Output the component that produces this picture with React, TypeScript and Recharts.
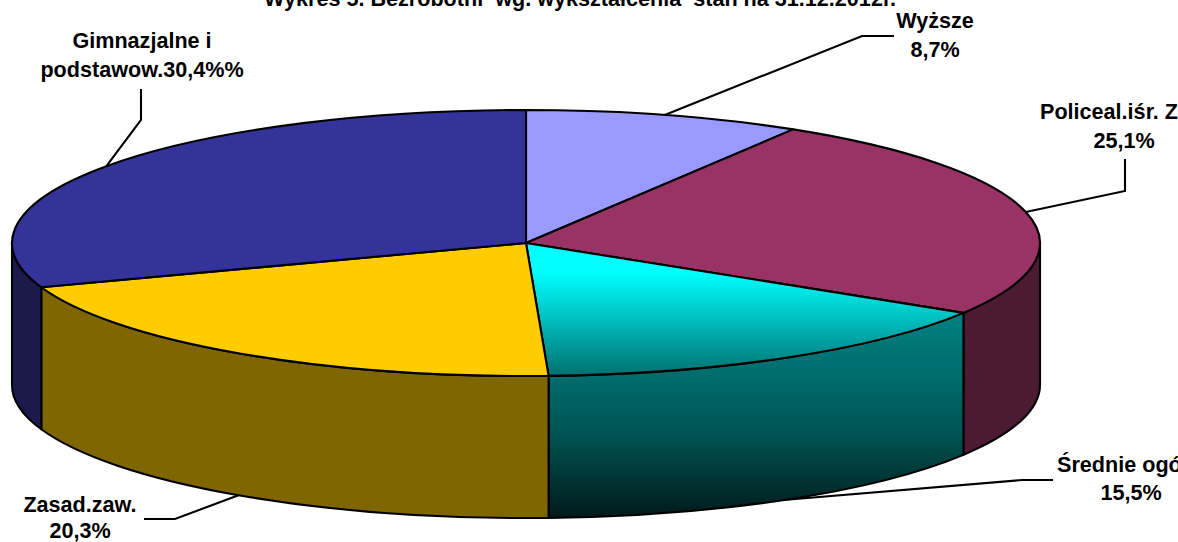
import { Pie, PieChart } from "recharts";

const categories = ["Wyższe", "Policeal.iśr. Zaw.", "Średnie ogólne", "Zasad.zaw.", "Gimnazjalne i podstawow."];
const shares = [8.7, 25.1, 15.5, 20.3, 30.4];
const topColors = ["#9999ff", "#993366", "url(#cyanTop)", "#ffcc00", "#333399"];
const sideColors = ["#4d4d80", "#4d1a33", "url(#cyanSide)", "#806600", "#1a1a4d"];

// visible text per label, the source picture cuts some of it at the frame
const labelLines = [
  ["Wyższe", "8,7%"],
  ["Policeal.iśr. Z", "25,1%"],
  ["Średnie ogó", "15,5%"],
  ["Zasad.zaw.", "20,3%"],
  ["Gimnazjalne i", "podstawow.30,4%%"],
];
const titleText = "Wykres 5. Bezrobotni  wg. wykształcenia  stan na 31.12.2012r.";

const WIDTH = 1178;
const HEIGHT = 542;
const CX = 526;
const CY = 243;
const RX = 514;
const RY = 133;
const DEPTH = 142;
const FONT = "'Liberation Sans', Arial, sans-serif";
const FONT_SIZE = 21.6;
const STROKE = 2.1;

// leader bend and end, then text x/baselines for each label
const labelLayout = [
  { elbow: [862, 36], end: [894, 36], x: [935, 935], y: [28, 57], anchor: ["middle", "middle"] },
  { elbow: [1125, 191], end: [1125, 159], x: [1040, 1124], y: [119, 148], anchor: ["start", "middle"] },
  { elbow: [1022, 480], end: [1053, 480], x: [1057, 1131], y: [472, 500], anchor: ["start", "middle"] },
  { elbow: [175, 519], end: [144, 519], x: [80, 80], y: [512, 538], anchor: ["middle", "middle"] },
  { elbow: [141, 120], end: [141, 89], x: [142, 142], y: [48, 77], anchor: ["middle", "middle"] },
];

const rows = categories.map((name, i) => ({
  name,
  value: shares[i],
  fill: topColors[i],
  side: sideColors[i],
}));

// clockwise degrees from 12 o'clock to a point on the flattened rim
function rim(cx: number, cy: number, r: number, clockDeg: number) {
  const a = (clockDeg * Math.PI) / 180;
  return [cx + r * Math.sin(a), cy - r * (RY / RX) * Math.cos(a)];
}

function TopSlice(props: any) {
  const { cx, cy, outerRadius: r, startAngle, endAngle, fill } = props;
  const t0 = 90 - startAngle;
  const t1 = 90 - endAngle;
  const p0 = rim(cx, cy, r, t0);
  const p1 = rim(cx, cy, r, t1);
  const large = t1 - t0 > 180 ? 1 : 0;
  const ry = r * (RY / RX);
  return (
    <path
      d={`M${cx},${cy} L${p0[0]},${p0[1]} A${r},${ry} 0 ${large} 1 ${p1[0]},${p1[1]} Z`}
      fill={fill}
      stroke="#000"
      strokeWidth={STROKE}
      strokeLinejoin="round"
    />
  );
}

function SideSlice(props: any) {
  const { cx, cy, outerRadius: r, startAngle, endAngle, payload } = props;
  // only the front half of the wall can be seen
  const t0 = Math.max(90 - startAngle, 90);
  const t1 = Math.min(90 - endAngle, 270);
  if (t1 <= t0) return null;
  const p0 = rim(cx, cy, r, t0);
  const p1 = rim(cx, cy, r, t1);
  const ry = r * (RY / RX);
  return (
    <path
      d={`M${p0[0]},${p0[1]} A${r},${ry} 0 0 1 ${p1[0]},${p1[1]} L${p1[0]},${p1[1] + DEPTH} A${r},${ry} 0 0 0 ${p0[0]},${p0[1] + DEPTH} Z`}
      fill={payload.side}
      stroke="#000"
      strokeWidth={STROKE}
      strokeLinejoin="round"
    />
  );
}

function SliceLabel(props: any) {
  const { cx, cy, outerRadius: r, midAngle, index } = props;
  const t = 90 - midAngle;
  const on = rim(cx, cy, r, t);
  const front = t > 90 && t < 270;
  const start = [on[0], on[1] + (front ? DEPTH : 0)];
  const box = labelLayout[index];
  return (
    <g>
      <polyline
        points={`${start[0]},${start[1]} ${box.elbow[0]},${box.elbow[1]} ${box.end[0]},${box.end[1]}`}
        fill="none"
        stroke="#000"
        strokeWidth={STROKE}
      />
      {labelLines[index].map((line, n) => (
        <text
          key={n}
          x={box.x[n]}
          y={box.y[n]}
          textAnchor={box.anchor[n] as any}
          fontFamily={FONT}
          fontSize={FONT_SIZE}
          fontWeight="bold"
          fill="#000"
        >
          {line}
        </text>
      ))}
    </g>
  );
}

export default function App() {
  return (
    <div
      style={{
        position: "absolute",
        left: 0,
        top: 0,
        width: WIDTH,
        height: HEIGHT,
        overflow: "hidden",
        background: "#fff",
      }}
    >
      <PieChart width={WIDTH} height={HEIGHT} margin={{ top: 0, right: 0, bottom: 0, left: 0 }}>
        <defs>
          <linearGradient id="cyanTop" gradientUnits="userSpaceOnUse" x1={0} y1={272} x2={0} y2={376}>
            <stop offset="0" stopColor="#00ffff" />
            <stop offset="1" stopColor="#007070" />
          </linearGradient>
          <linearGradient id="cyanSide" gradientUnits="userSpaceOnUse" x1={0} y1={314} x2={0} y2={518}>
            <stop offset="0" stopColor="#008080" />
            <stop offset="0.32" stopColor="#006b6b" />
            <stop offset="0.6" stopColor="#005252" />
            <stop offset="1" stopColor="#001a1a" />
          </linearGradient>
        </defs>
        <text
          x={264}
          y={6}
          fontFamily={FONT}
          fontSize={FONT_SIZE}
          fontWeight="bold"
          fill="#000"
          style={{ whiteSpace: "pre" }}
        >
          {titleText}
        </text>
        <Pie
          data={rows}
          dataKey="value"
          cx={CX}
          cy={CY}
          outerRadius={RX}
          startAngle={90}
          endAngle={-270}
          shape={SideSlice}
          isAnimationActive={false}
        />
        <Pie
          data={rows}
          dataKey="value"
          cx={CX}
          cy={CY}
          outerRadius={RX}
          startAngle={90}
          endAngle={-270}
          shape={TopSlice}
          label={SliceLabel}
          labelLine={false}
          isAnimationActive={false}
        />
      </PieChart>
    </div>
  );
}
